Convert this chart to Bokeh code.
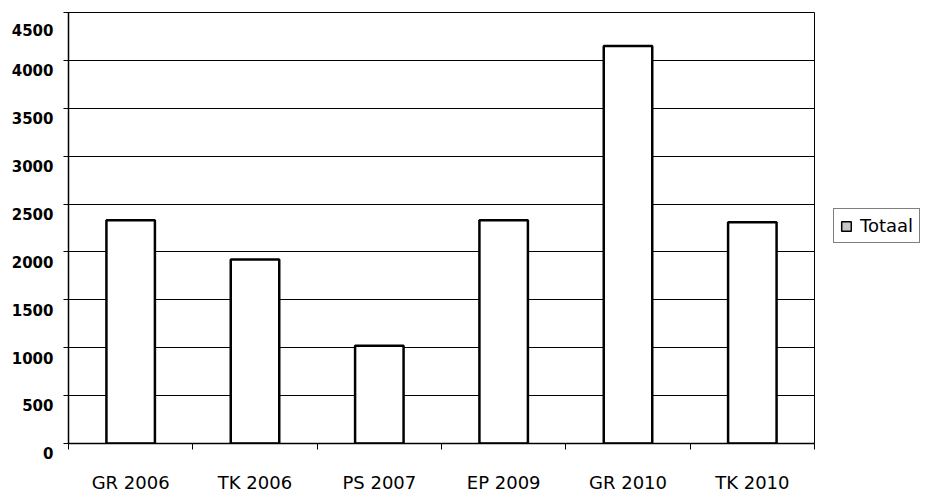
from bokeh.plotting import figure
from bokeh.layouts import row
from bokeh.models import ColumnDataSource, FixedTicker, Range1d, Legend, LegendItem
from bokeh.embed import file_html
from bokeh.resources import INLINE

categories = ["GR 2006", "TK 2006", "PS 2007", "EP 2009", "GR 2010", "TK 2010"]
totaal = [2330, 1920, 1020, 2330, 4150, 2310]
y_ticks = [0, 500, 1000, 1500, 2000, 2500, 3000, 3500, 4000, 4500]
series_name = "Totaal"

n = len(categories)
xs = [i + 0.5 for i in range(n)]
src = ColumnDataSource(dict(x=xs, top=totaal, cat=categories))

H = 495
p = figure(width=816, height=H, output_backend="svg", toolbar_location=None,
           x_range=Range1d(0, n), y_range=Range1d(0, 4500),
           min_border_left=68, min_border_right=2, min_border_top=12, min_border_bottom=50)

r = p.vbar(x="x", top="top", width=0.39, source=src, fill_color="white",
           line_color="black", line_width=2.5)

p.xaxis.ticker = FixedTicker(ticks=xs, minor_ticks=list(range(n + 1)))
p.xaxis.major_label_overrides = {x: c for x, c in zip(xs, categories)}
p.xaxis.major_tick_line_color = None
p.xaxis.major_tick_out = 0
p.xaxis.major_tick_in = 0
p.xaxis.minor_tick_line_color = "black"
p.xaxis.minor_tick_out = 6
p.xaxis.minor_tick_in = 0
p.xaxis.axis_line_color = "black"
p.xaxis.axis_line_width = 1.5
p.xaxis.major_label_text_font = "DejaVu Sans"
p.xaxis.major_label_text_font_size = "18px"
p.xaxis.major_label_text_color = "black"
p.xaxis.major_label_standoff = 22

p.yaxis.ticker = FixedTicker(ticks=y_ticks)
p.yaxis.major_label_overrides = {t: "\n" + str(t) for t in y_ticks}
p.yaxis.minor_tick_line_color = None
p.yaxis.major_tick_out = 5
p.yaxis.major_tick_in = 0
p.yaxis.axis_line_width = 1.5
p.yaxis.axis_line_color = "black"
p.yaxis.major_label_text_font = "DejaVu Sans"
p.yaxis.major_label_text_font_style = "bold"
p.yaxis.major_label_text_font_size = "15px"
p.yaxis.major_label_text_color = "black"
p.yaxis.major_label_standoff = 10

p.xgrid.grid_line_color = None
p.ygrid.ticker = FixedTicker(ticks=y_ticks)
p.ygrid.grid_line_color = "black"
p.ygrid.grid_line_width = 1

p.outline_line_color = "black"
p.outline_line_width = 1

# legend-only side figure
lg = figure(width=107, height=H, output_backend="svg", toolbar_location=None,
            x_axis_location=None, y_axis_location=None,
            x_range=Range1d(0, 1), y_range=Range1d(0, 1),
            min_border_left=0, min_border_right=0, min_border_top=0, min_border_bottom=0)
lg.outline_line_color = None
lg.xgrid.grid_line_color = None
lg.ygrid.grid_line_color = None
proxy = lg.vbar(x=[float("nan")], top=[float("nan")], width=0.5, fill_color="#c8c8c8",
                line_color="black", line_width=1.5)

legend = Legend(items=[LegendItem(label=series_name, renderers=[proxy])],
                location=(17, 200), border_line_color="black", border_line_width=1.5,
                label_text_font="DejaVu Sans", label_text_font_size="18px",
                label_text_color="black",
                glyph_width=12, glyph_height=12, padding=6, margin=0,
                label_standoff=8, background_fill_color="white")
lg.add_layout(legend, "center")

layout = row(p, lg, spacing=0)
open("out.html", "w").write(file_html(layout, INLINE))
